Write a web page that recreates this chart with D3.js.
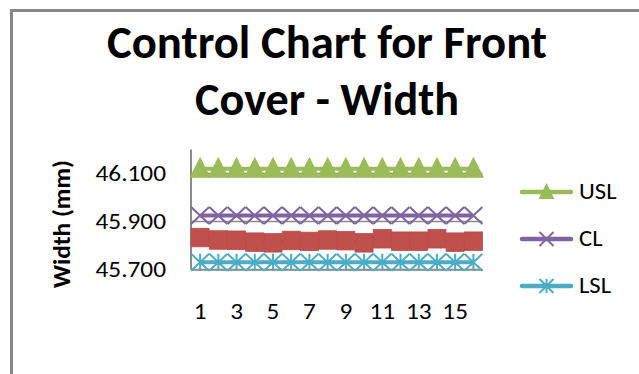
<!DOCTYPE html>
<html>
<head>
<meta charset="utf-8">
<script src="https://cdn.jsdelivr.net/npm/d3@7"></script>
<style>
  html, body { margin: 0; padding: 0; background: #fff; }
  svg { display: block; }
  text { font-family: Carlito, Calibri, Lato, "Liberation Sans", sans-serif; fill: #000; }
</style>
</head>
<body>
<svg id="chart" width="639" height="374"></svg>
<script>
// Sample numbers along the category axis
const samples = d3.range(1, 17);
// Measured front cover width per sample (mm)
const widths = [45.833, 45.823, 45.822, 45.814, 45.811, 45.821, 45.817, 45.823,
                45.820, 45.811, 45.828, 45.818, 45.818, 45.828, 45.814, 45.818];
// Specification / control limits (constant across samples)
const usl = samples.map(() => 46.12);
const cl  = samples.map(() => 45.925);
const lsl = samples.map(() => 45.73);
// Axis ticks
const yTicks = [45.7, 45.9, 46.1];
const xTicks = [1, 3, 5, 7, 9, 11, 13, 15];
const titleLines = ["Control Chart for Front", "Cover - Width"];
const legendNames = ["USL", "CL", "LSL"];

const colors = { data: "#c0504d", usl: "#9bbb59", cl: "#8064a2", lsl: "#4bacc6" };

const svg = d3.select("#chart");

// Slightly widen text runs (labels are set a little wide)
function widen(sel, k) {
  sel.each(function () {
    const w = this.getComputedTextLength();
    d3.select(this).attr("textLength", w * k).attr("lengthAdjust", "spacingAndGlyphs");
  });
}

// Chart area frame (runs off the right and bottom edges)
svg.append("path")
  .attr("d", "M11.5,380 L11.5,10.5 L650,10.5")
  .attr("fill", "none")
  .attr("stroke", "#878787")
  .attr("stroke-width", 3);

// Title
const titleWidths = [440, 264];
titleLines.forEach((t, i) => {
  svg.append("text")
    .attr("x", 327)
    .attr("y", 57.5 + i * 57.5)
    .attr("text-anchor", "middle")
    .attr("font-size", 47)
    .attr("font-weight", "bold")
    .attr("textLength", titleWidths[i])
    .attr("lengthAdjust", "spacingAndGlyphs")
    .text(t);
});

// Scales
const x = d3.scaleBand().domain(samples).range([191, 482.5]).padding(0);
const cx = d => x(d) + x.bandwidth() / 2;
const y = d3.scaleLinear().domain([45.7, 46.2]).range([269.5, 149.5]);

// Gridlines
svg.append("g")
  .selectAll("line")
  .data(yTicks)
  .join("line")
  .attr("x1", 191).attr("x2", 482.5)
  .attr("y1", d => y(d)).attr("y2", d => y(d))
  .attr("stroke", "#8a8a8a")
  .attr("stroke-width", 1.5);

// Y axis
const yAxis = svg.append("g")
  .attr("transform", "translate(191,0)")
  .call(d3.axisLeft(y).tickValues(yTicks).tickFormat(d3.format(".3f")).tickSize(0).tickPadding(25));
yAxis.select(".domain").attr("stroke", "#8a8a8a").attr("stroke-width", 2)
  .attr("d", `M0,${y(46.2)}V${y(45.7)}`);
yAxis.selectAll("text")
  .attr("font-family", null)
  .attr("font-size", 23)
  .attr("dy", "0.32em")
  .call(widen, 1.1);

// X axis
const xAxis = svg.append("g")
  .attr("transform", `translate(0,${y(45.7)})`)
  .call(d3.axisBottom(x).tickValues(xTicks).tickSize(0));
xAxis.select(".domain").attr("stroke", "#8a8a8a").attr("stroke-width", 1.5);
xAxis.selectAll("text")
  .attr("font-family", null)
  .attr("font-size", 23)
  .attr("y", 49.5)
  .attr("dy", 0)
  .call(widen, 1.1);

// Y axis title
svg.append("text")
  .attr("transform", "translate(70,224) rotate(-90)")
  .attr("text-anchor", "middle")
  .attr("font-size", 25)
  .attr("font-weight", "bold")
  .attr("textLength", 128)
  .attr("lengthAdjust", "spacingAndGlyphs")
  .text("Width (mm)");

// Marker shapes
const triPath = (hw, up, down) => `M0,${-up}L${hw},${down}L${-hw},${down}Z`;
const xPath = (hw, hh) => `M${-hw},${-hh}L${hw},${hh}M${-hw},${hh}L${hw},${-hh}`;
const starPath = (hw, hh) => xPath(hw, hh) + `M0,${-hh}V${hh}`;

const line = d3.line().x((d, i) => cx(samples[i])).y(d => y(d));

function drawSeries(values, color, marker) {
  const g = svg.append("g");
  g.append("path")
    .attr("d", line(values))
    .attr("fill", "none")
    .attr("stroke", color)
    .attr("stroke-width", 4)
    .attr("stroke-linejoin", "round");
  g.selectAll(".m")
    .data(values)
    .join(marker.tag)
    .attr("class", "m")
    .each(function (d, i) { marker.draw(d3.select(this), cx(samples[i]), y(d)); });
}

// Measurements: square markers
drawSeries(widths, colors.data, {
  tag: "rect",
  draw: (s, px, py) => s.attr("x", px - 9).attr("y", py - 9.25)
    .attr("width", 18).attr("height", 18.5)
    .attr("fill", colors.data).attr("stroke", "#b84a47").attr("stroke-width", 0.8)
});

// USL: triangle markers
drawSeries(usl, colors.usl, {
  tag: "path",
  draw: (s, px, py) => s.attr("transform", `translate(${px},${py})`)
    .attr("d", triPath(10.6, 12, 9)).attr("fill", colors.usl)
});

// CL: x markers
drawSeries(cl, colors.cl, {
  tag: "path",
  draw: (s, px, py) => s.attr("transform", `translate(${px},${py})`)
    .attr("d", xPath(9, 8.5)).attr("fill", "none")
    .attr("stroke", colors.cl).attr("stroke-width", 2)
});

// LSL: star markers
drawSeries(lsl, colors.lsl, {
  tag: "path",
  draw: (s, px, py) => s.attr("transform", `translate(${px},${py})`)
    .attr("d", starPath(9, 8.5)).attr("fill", "none")
    .attr("stroke", colors.lsl).attr("stroke-width", 2)
});

// Legend
const legendItems = [
  { name: legendNames[0], color: colors.usl, d: triPath(8, 9, 7), fill: true },
  { name: legendNames[1], color: colors.cl, d: xPath(7, 7), fill: false },
  { name: legendNames[2], color: colors.lsl, d: starPath(7, 7), fill: false }
];
const legend = svg.append("g");
legendItems.forEach((it, i) => {
  const ly = 192 + i * 47;
  const g = legend.append("g").attr("transform", `translate(0,${ly})`);
  g.append("line")
    .attr("x1", 522).attr("x2", 571)
    .attr("stroke", it.color).attr("stroke-width", 4.5)
    .attr("stroke-linecap", "round");
  g.append("path")
    .attr("transform", "translate(546.5,0)")
    .attr("d", it.d)
    .attr("fill", it.fill ? it.color : "none")
    .attr("stroke", it.color)
    .attr("stroke-width", it.fill ? 0 : 2);
  g.append("text")
    .attr("x", 579)
    .attr("y", 7)
    .attr("font-size", 22)
    .text(it.name)
    .call(widen, 1.12);
});
</script>
</body>
</html>
